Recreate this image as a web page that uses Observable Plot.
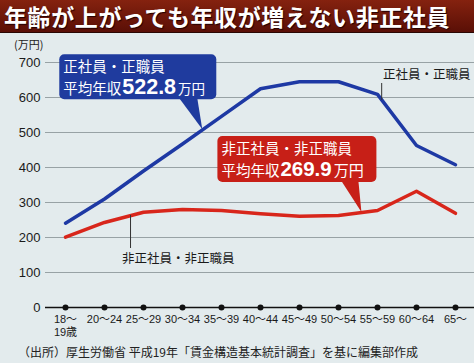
<!DOCTYPE html>
<html><head><meta charset="utf-8">
<script src="https://cdn.jsdelivr.net/npm/d3@7"></script>
<script src="https://cdn.jsdelivr.net/npm/@observablehq/plot@0.6"></script>
<style>
body{margin:0;}
#wrap{position:relative;width:474px;height:363px;background:#e3ebed;overflow:hidden;font-family:"Noto Sans CJK JP",sans-serif;}
#title{position:absolute;left:0;top:0;width:470px;height:32px;background:linear-gradient(#85220f,#5a0f06);border-bottom:1.5px solid #2a0703;color:#fff;font-weight:bold;font-size:23px;line-height:32px;padding-left:4px;letter-spacing:0.6px;text-shadow:1px 1px 1px #200;white-space:nowrap;}
#chart{position:absolute;left:0;top:33px;}
#caption{position:absolute;left:18px;top:344px;font-size:12px;line-height:16px;color:#222;white-space:nowrap;}
</style></head>
<body><div id="wrap"><div id="title">年齢が上がっても年収が増えない非正社員</div><div id="chart"></div><div id="caption">（出所）厚生労働省 平成19年「賃金構造基本統計調査」を基に編集部作成</div></div>
<script>
const ages = ["18〜19歳","20〜24","25〜29","30〜34","35〜39","40〜44","45〜49","50〜54","55〜59","60〜64","65〜"];
const ageLabels = ["18〜\n19歳","20〜24","25〜29","30〜34","35〜39","40〜44","45〜49","50〜54","55〜59","60〜64","65〜"];
const regular = [241,310,390,467,546,625,645,645,609,463,408];
const nonRegular = [201,243,272,280,277,268,261,263,277,332,269];
const yTicks = [0,100,200,300,400,500,600,700];
const regularName = "正社員・正職員";
const nonRegularName = "非正社員・非正職員";
const regularAvg = "522.8";
const nonRegularAvg = "269.9";

const blue = "#1e39a4", blueBox = "#1f3b9e";
const red = "#d8261b", redBox = "#c71f17";

const rows = (vals) => ages.map((a, i) => ({age: a, v: vals[i]}));
const labelOf = Object.fromEntries(ages.map((a, i) => [a, ageLabels[i]]));

const plot = Plot.plot({
  width: 474, height: 307,
  marginLeft: 45, marginRight: 0, marginTop: 29, marginBottom: 33,
  style: {background: "transparent", fontFamily: "'Liberation Sans', 'Noto Sans CJK JP', sans-serif", overflow: "visible"},
  x: {type: "point", domain: ages, padding: 0.39},
  y: {domain: [0, 700]},
  marks: [
    Plot.ruleY(yTicks.filter(d => d > 0), {stroke: "#98a2a5", strokeWidth: 1}),
    Plot.axisY({ticks: yTicks, tickSize: 0, tickPadding: 5, fontSize: 13, fill: "#1a1a1a", label: null}),
    Plot.axisX({tickSize: 0, tickPadding: 7, fontSize: 11, fill: "#1a1a1a", label: null, tickFormat: d => labelOf[d], lineHeight: 1.15}),
    Plot.ruleY([0], {stroke: "#111", strokeWidth: 1.5}),
    Plot.dot(ages, {x: d => d, y: () => 0, r: 3, fill: "#111"}),
    Plot.line(rows(nonRegular), {x: "age", y: "v", stroke: red, strokeWidth: 3.5}),
    Plot.line(rows(regular), {x: "age", y: "v", stroke: blue, strokeWidth: 3.5})
  ]
});
document.getElementById("chart").appendChild(plot);

const X = plot.scale("x"), Y = plot.scale("y");
const svg = d3.select(plot);
const at = (vals, i, t) => [X.apply(ages[i]) * (1 - t) + X.apply(ages[i + 1]) * t, Y.apply(vals[i] * (1 - t) + vals[i + 1] * t)];
const jp = "'Noto Sans CJK JP', sans-serif";

// unit label
svg.append("text").attr("x", 14).attr("y", 16).attr("font-size", 11).attr("fill", "#222")
  .attr("text-anchor", "start").attr("font-family", jp).text("(万円)");

function callout(tip, o) {
  const [tx, ty] = tip;
  const g = svg.append("g").attr("text-anchor", "start");
  const bx = tx + o.dx, by = ty + o.dy;
  g.append("rect").attr("x", bx).attr("y", by).attr("width", o.w).attr("height", o.h).attr("rx", 5).attr("fill", o.fill);
  g.append("polygon").attr("points", `${tx + o.b1},${by + o.h - 1} ${tx + o.b2},${by + o.h - 1} ${tx},${ty}`).attr("fill", o.fill);
  g.append("text").attr("x", bx + 4).attr("y", by + 18).attr("fill", "#fff").attr("font-size", o.fs1)
    .attr("font-family", jp).text(o.name);
  const t2 = g.append("text").attr("x", bx + 4).attr("y", by + 40).attr("fill", "#fff");
  t2.append("tspan").attr("font-size", o.fs1).attr("font-family", jp).text("平均年収");
  t2.append("tspan").attr("dx", 1).attr("font-size", o.fsNum).attr("font-weight", "bold")
    .attr("font-family", "'Liberation Sans', Arial, sans-serif").text(o.value);
  t2.append("tspan").attr("dx", 2).attr("font-size", o.fsUnit).attr("font-family", jp).text("万円");
}

callout(at(regular, 3, 0.52), {dx: -143, dy: -75, w: 157, h: 45, b1: -23, b2: -5, fill: blueBox,
  name: regularName, value: regularAvg, fs1: 14.5, fsNum: 21.5, fsUnit: 13.5});
callout(at(nonRegular, 7, 0.6), {dx: -144, dy: -76, w: 159, h: 46, b1: -20, b2: -3, fill: redBox,
  name: nonRegularName, value: nonRegularAvg, fs1: 14.5, fsNum: 20.5, fsUnit: 15});

// series labels with leader lines
function seriesLabel(i, t, vals, ly1, ly2, tx, ty, text) {
  const [px, py] = at(vals, i, t);
  svg.append("line").attr("x1", px).attr("x2", px).attr("y1", ly1 ?? py).attr("y2", ly2 ?? py)
    .attr("stroke", "#333").attr("stroke-width", 1);
  svg.append("text").attr("x", tx).attr("y", ty).attr("font-size", 12.5).attr("fill", "#1a1a1a")
    .attr("text-anchor", "start").attr("font-family", jp).text(text);
}
seriesLabel(8, 0.12, regular, 50, null, 383, 46, regularName);
seriesLabel(1, 0.68, nonRegular, null, 215, 122, 230, nonRegularName);
</script>
</body></html>
